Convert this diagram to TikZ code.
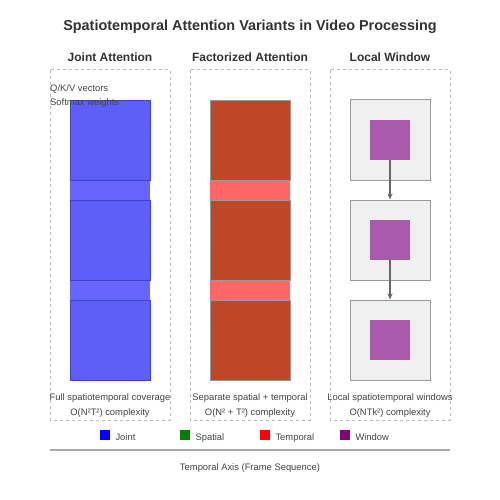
\documentclass[tikz,border=0pt]{standalone}
\usepackage{fontspec}
\setmainfont{Liberation Sans}
\usetikzlibrary{arrows.meta}
\definecolor{txt}{HTML}{333333}
\definecolor{sub}{HTML}{444444}
\definecolor{dashgray}{HTML}{BBBBBB}
\definecolor{jblue}{HTML}{5E5EF8}
\definecolor{jblueedge}{HTML}{4040C8}
\definecolor{jstrip}{HTML}{6666FF}
\definecolor{fbrown}{HTML}{C04628}
\definecolor{fstrip}{HTML}{FF6666}
\definecolor{wgray}{HTML}{F0F0F0}
\definecolor{wedge}{HTML}{999999}
\definecolor{wpurple}{HTML}{AA5AAA}
\definecolor{axisgray}{HTML}{AAAAAA}
\definecolor{lgreen}{HTML}{008000}
\definecolor{lpurple}{HTML}{800080}
\tikzset{
  panel/.style={draw=dashgray, line width=1pt, dash pattern=on 3pt off 3pt},
  jointblk/.style={fill=jblue, draw=jblueedge, line width=0.8pt},
  jointstrip/.style={fill=jstrip},
  factblk/.style={fill=fbrown, draw=wedge, line width=0.8pt},
  factstrip/.style={fill=fstrip},
  winbox/.style={fill=wgray, draw=wedge, line width=1pt},
  winsq/.style={fill=wpurple},
  flow/.style={draw=black!60, line width=1.2pt, -{Stealth[length=6pt,width=5pt]}},
  head/.style={font=\bfseries\fontsize{12}{14}\selectfont, text=txt},
  note/.style={font=\fontsize{9.4}{11}\selectfont, text=sub},
  leg/.style={font=\fontsize{9.4}{11}\selectfont, text=sub, anchor=base west},
}
\begin{document}
\begin{tikzpicture}[x=1pt,y=-1pt]
\useasboundingbox (0,0) rectangle (500,500);
\fill[white] (0,0) rectangle (500,500);
\node[font=\bfseries\fontsize{14.4}{17}\selectfont, text=txt] (title) at (250,26.5) {Spatiotemporal Attention Variants in Video Processing};
\node[head] (h1) at (110,57) {Joint Attention};
\node[head] (h2) at (250,57) {Factorized Attention};
\node[head] (h3) at (390,57) {Local Window};
% panels
\draw[panel] (50,70) rectangle (170,420);
\draw[panel] (190,70) rectangle (310,420);
\draw[panel] (330,70) rectangle (450,420);
% joint
\fill[jointstrip] (70,180) rectangle (150,200);
\fill[jointstrip] (70,280) rectangle (150,300);
\draw[jointblk] (70,100) rectangle (150,180);
\draw[jointblk] (70,200) rectangle (150,280);
\draw[jointblk] (70,300) rectangle (150,380);
\node[note, anchor=west, inner sep=0pt] (qkv) at (50,88.5) {Q/K/V vectors};
\node[note, anchor=west, inner sep=0pt] (smx) at (50,103.5) {Softmax weights};
% factorized
\fill[factstrip] (210,180) rectangle (290,200);
\fill[factstrip] (210,280) rectangle (290,300);
\draw[factblk] (210,100) rectangle (290,180);
\draw[factblk] (210,200) rectangle (290,280);
\draw[factblk] (210,300) rectangle (290,380);
% local window
\node[winbox, minimum width=80pt, minimum height=80pt, inner sep=0pt] (w1) at (390,140) {};
\node[winbox, minimum width=80pt, minimum height=80pt, inner sep=0pt] (w2) at (390,240) {};
\node[winbox, minimum width=80pt, minimum height=80pt, inner sep=0pt] (w3) at (390,340) {};
\node[winsq, minimum width=40pt, minimum height=40pt, inner sep=0pt] (s1) at (390,140) {};
\node[winsq, minimum width=40pt, minimum height=40pt, inner sep=0pt] (s2) at (390,240) {};
\node[winsq, minimum width=40pt, minimum height=40pt, inner sep=0pt] (s3) at (390,340) {};
\draw[flow] (s1.south) -- (w2.north);
\draw[flow] (s2.south) -- (w3.north);
% captions
\node[note] (c1a) at (110,398.5) {Full spatiotemporal coverage};
\node[note] (c1b) at (110,413.5) {O(N²T²) complexity};
\node[note] (c2a) at (250,398.5) {Separate spatial + temporal};
\node[note] (c2b) at (250,413.5) {O(N² + T²) complexity};
\node[note] (c3a) at (390,398.5) {Local spatiotemporal windows};
\node[note] (c3b) at (390,413.5) {O(NTk²) complexity};
% legend
\fill[blue] (100,430) rectangle (110,440);
\node[leg] (l1) at (112,440) {Joint};
\fill[lgreen] (180,430) rectangle (190,440);
\node[leg] (l2) at (192,440) {Spatial};
\fill[red] (260,430) rectangle (270,440);
\node[leg] (l3) at (272,440) {Temporal};
\fill[lpurple] (340,430) rectangle (350,440);
\node[leg] (l4) at (352,440) {Window};
% axis
\draw[axisgray, line width=1.5pt] (50,450) -- (450,450);
\node[note] (axis) at (250,468.5) {Temporal Axis (Frame Sequence)};
\end{tikzpicture}
\end{document}
